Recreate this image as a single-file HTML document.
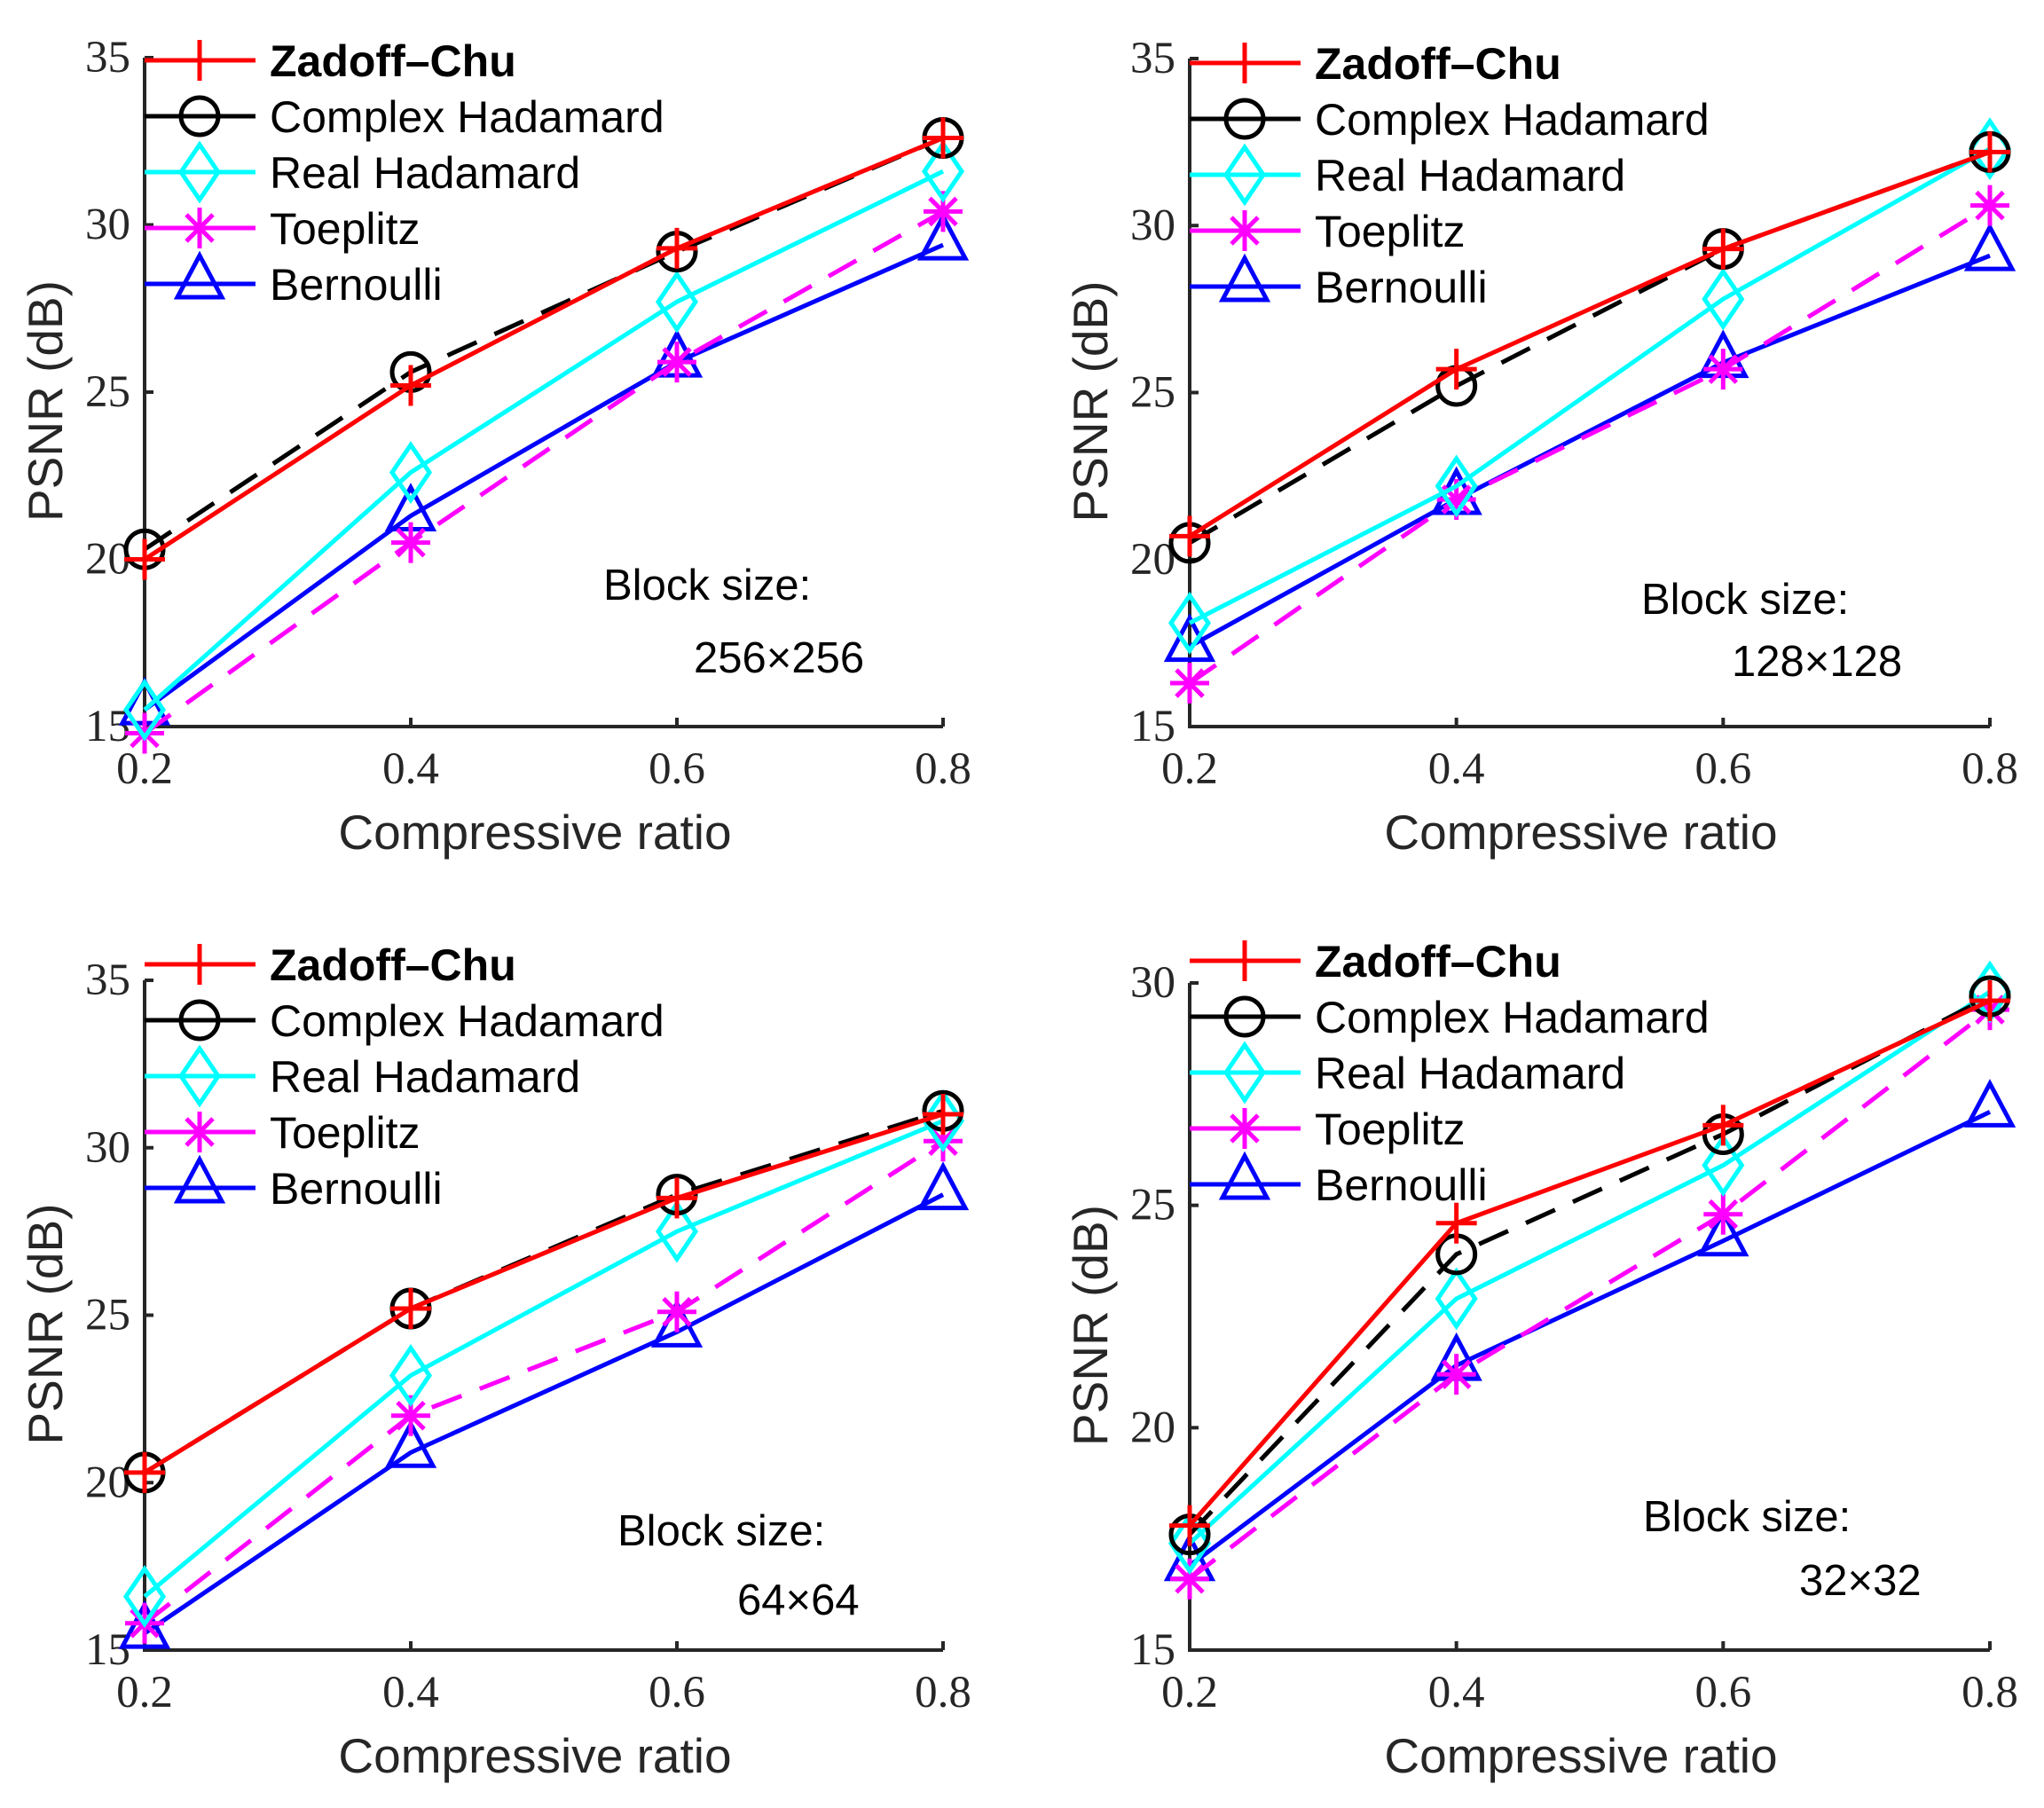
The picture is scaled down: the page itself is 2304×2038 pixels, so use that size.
<!DOCTYPE html>
<html><head><meta charset="utf-8"><style>
html,body{margin:0;padding:0;background:#fff;}
svg{display:block;}
.tk{font-family:"Liberation Serif",serif;font-size:51px;fill:#262626;}
.lg{font-family:"Liberation Sans",sans-serif;font-size:50px;fill:#000;}
.al{font-family:"Liberation Sans",sans-serif;font-size:55px;fill:#262626;}
.an{font-family:"Liberation Sans",sans-serif;font-size:49px;fill:#000;}
</style></head><body>
<svg id="fig" width="2304" height="2038" viewBox="0 0 2304 2038" xmlns="http://www.w3.org/2000/svg"></svg>
<script>
const categories=[0.2,0.4,0.6,0.8];
const seriesNames=["Zadoff–Chu","Complex Hadamard","Real Hadamard","Toeplitz","Bernoulli"];
// panel 1: 256x256
const p1ZC=[20.0,25.2,29.3,32.6];
const p1CH=[20.3,25.6,29.2,32.6];
const p1RH=[15.5,22.6,27.7,31.6];
const p1TP=[14.8,20.5,25.9,30.4];
const p1BE=[15.5,21.3,25.9,29.4];
// panel 2: 128x128
const p2ZC=[20.7,25.7,29.3,32.2];
const p2CH=[20.5,25.2,29.3,32.2];
const p2RH=[18.1,22.2,27.8,32.3];
const p2TP=[16.3,21.8,25.7,30.6];
const p2BE=[17.4,21.8,25.9,29.1];
// panel 3: 64x64
const p3ZC=[20.3,25.2,28.5,31.0];
const p3CH=[20.3,25.2,28.6,31.1];
const p3RH=[16.6,23.2,27.5,30.8];
const p3TP=[15.8,22.0,25.1,30.2];
const p3BE=[15.5,20.9,24.5,28.6];
// panel 4: 32x32
const p4ZC=[17.8,24.6,26.8,29.6];
const p4CH=[17.6,23.9,26.6,29.7];
const p4RH=[17.4,22.9,25.9,29.8];
const p4TP=[16.6,21.2,24.8,29.4];
const p4BE=[16.9,21.4,24.2,27.1];
const yTicks1=[15,20,25,30,35];
const yTicks4=[15,20,25,30];
const xTickLabels=["0.2","0.4","0.6","0.8"];
const blockLabels=["256×256","128×128","64×64","32×32"];

const NS="http://www.w3.org/2000/svg";
const svg=document.getElementById('fig');
function mk(tag,attrs,parent){const e=document.createElementNS(NS,tag);for(const k in attrs)e.setAttribute(k,attrs[k]);(parent||svg).appendChild(e);return e;}
const colors=["#ff0000","#000000","#00ffff","#ff00ff","#0000ff"];
const dashes=["none","36,22","none","36,22","none"];
const markers=["plus","circle","diamond","star","triangle"];
const SW=5;

function marker(g,type,x,y,c){
  let e;
  if(type==="plus"){e=mk('path',{d:`M${x-23},${y}H${x+23}M${x},${y-23}V${y+23}`,stroke:c,'stroke-width':SW,fill:'none'},g);}
  else if(type==="circle"){e=mk('circle',{cx:x,cy:y,r:21,stroke:c,'stroke-width':SW,fill:'none'},g);}
  else if(type==="diamond"){e=mk('path',{d:`M${x},${y-31}L${x+21},${y}L${x},${y+31}L${x-21},${y}Z`,stroke:c,'stroke-width':SW,fill:'none'},g);}
  else if(type==="star"){let d=`M${x-22},${y}H${x+22}M${x},${y-23}V${y+23}M${x-15},${y-15}L${x+15},${y+15}M${x-15},${y+15}L${x+15},${y-15}`;e=mk('path',{d:d,stroke:c,'stroke-width':SW,fill:'none'},g);}
  else {e=mk('path',{d:`M${x},${y-32}L${x+25},${y+15}L${x-25},${y+15}Z`,stroke:c,'stroke-width':SW,fill:'none'},g);}
  return e;
}

function panel(idx,x0,x1,yTop,yBot,ymin,ymax,yticks,series,blk){
  const g=mk('g',{});
  
  
  const sx=v=>x0+(v-0.2)/(0.8-0.2)*(x1-x0);
  const sy=v=>yBot-(v-ymin)/(ymax-ymin)*(yBot-yTop);
  const ax=mk('path',{d:`M${x0},${yTop}V${yBot}H${x1}`,stroke:'#262626','stroke-width':4,fill:'none'},g);
  
  
  yticks.forEach(t=>{
    mk('line',{x1:x0,x2:x0+10,y1:sy(t),y2:sy(t),stroke:'#262626','stroke-width':4},g);
    const tx=mk('text',{x:x0-16,y:sy(t)+16,'text-anchor':'end',class:'tk'},g);
    tx.textContent=t;
    
    
  });
  categories.forEach((c,i)=>{
    mk('line',{x1:sx(c),x2:sx(c),y1:yBot,y2:yBot-10,stroke:'#262626','stroke-width':4},g);
    const tx=mk('text',{x:sx(c),y:yBot+64,'text-anchor':'middle',class:'tk'},g);
    tx.textContent=xTickLabels[i];
    
    
  });
  const xl=mk('text',{x:(x0+x1)/2-10,y:yBot+138,'text-anchor':'middle',class:'al'},g);
  xl.textContent="Compressive ratio";
  
  
  const yc=(yTop+yBot)/2+10;
  const yl=mk('text',{x:x0-93,y:yc,'text-anchor':'middle',class:'al',transform:`rotate(-90 ${x0-93} ${yc})`},g);
  yl.textContent="PSNR (dB)";
  
  
  for(let s=4;s>=0;s--){
    const vals=series[s];
    const pts=vals.map((v,i)=>`${sx(categories[i])},${sy(v)}`).join(' ');
    const sg=mk('g',{},g);
    
    
    const pl=mk('polyline',{points:pts,stroke:colors[s],'stroke-width':SW,fill:'none','stroke-dasharray':dashes[s]},sg);
    
    
    vals.forEach((v,i)=>{
      const m=marker(sg,markers[s],sx(categories[i]),sy(v),colors[s]);
      
      
    });
  }
  const lg=mk('g',{},g);
  
  
  const ly0=blk.legendY;
  for(let s=0;s<5;s++){
    const y=ly0+s*63;
    const eg=mk('g',{},lg);
    
    
    mk('line',{x1:x0,x2:x0+125,y1:y,y2:y,stroke:colors[s],'stroke-width':SW},eg);
    marker(eg,markers[s],x0+62,y,colors[s]);
    const t=mk('text',{x:x0+141,y:y+18,class:'lg','font-weight':s===0?'bold':'normal'},eg);
    t.textContent=seriesNames[s];
  }
  const a1=mk('text',{x:blk.bx,y:blk.by,class:'an'},g);
  a1.textContent="Block size:";
  
  
  const a2=mk('text',{x:blk.sx,y:blk.sy,class:'an'},g);
  a2.textContent=blk.label;
  
  
}
function B(label,legendY,bx,by,sx,sy){return {label,legendY,bx,by,sx,sy};}
panel(0,163,1063,65,819,15,35,yTicks1,[p1ZC,p1CH,p1RH,p1TP,p1BE],B(blockLabels[0],68,680,676,782,758));
panel(1,1341,2243,66,819,15,35,yTicks1,[p2ZC,p2CH,p2RH,p2TP,p2BE],B(blockLabels[1],71,1850,692,1952,762));
panel(2,163,1063,1105,1860,15,35,yTicks1,[p3ZC,p3CH,p3RH,p3TP,p3BE],B(blockLabels[2],1087,696,1742,831,1820));
panel(3,1341,2243,1108,1860,15,30,yTicks4,[p4ZC,p4CH,p4RH,p4TP,p4BE],B(blockLabels[3],1083,1852,1726,2028,1798));
</script>
</body></html>
